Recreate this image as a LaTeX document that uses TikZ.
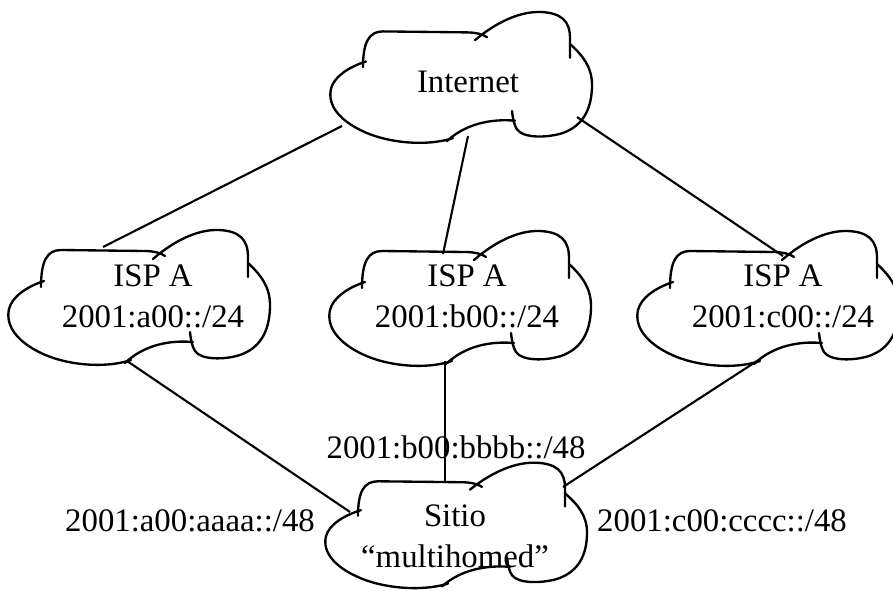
\documentclass[tikz,border=0pt]{standalone}
\usepackage{fontspec}
\setmainfont{Liberation Serif}
\usepackage{tikz}

\tikzset{
    cloudline/.style={line width=2pt, line cap=round, line join=round},
    link/.style={line width=1.8pt},
    label/.style={font=\fontsize{28}{35}\selectfont, align=center, inner sep=0pt},
    netcloud/.pic={
        % top left lobe
        \draw[cloudline] (-98,-10) .. controls (-98,-36) and (-92,-47) .. (-78,-47)
            -- (5,-46) .. controls (15,-46) and (22,-44) .. (26,-41);
        % top right lobe
        \draw[cloudline] (14,-38) .. controls (30,-52) and (55,-68) .. (80,-67)
            .. controls (100,-66) and (109,-58) .. (109,-40) -- (109,-20);
        % right lobe
        \draw[cloudline] (109,-34) .. controls (122,-22) and (131,-10) .. (131,8)
            .. controls (131,30) and (124,50) .. (101,58)
            .. controls (85,63) and (62,63) .. (56,54)
            .. controls (53,49) and (52,44) .. (51,35);
        % bottom lobe
        \draw[cloudline] (54,45) .. controls (30,43) and (5,48) .. (-14,66);
        % left lobe
        \draw[cloudline] (-8,63) .. controls (-35,72) and (-75,68) .. (-100,55)
            .. controls (-120,45) and (-134,30) .. (-130,12)
            .. controls (-127,0) and (-113,-10) .. (-95,-16);
    }
}

\begin{document}
\begin{tikzpicture}[x=0.03cm, y=-0.03cm]

    \useasboundingbox (0,0) rectangle (893,591);

    %\draw [help lines, step=50] (0,0) grid (893,591);

    \pic[yscale=0.97] at (461,77) {netcloud};
    \pic at (139,297) {netcloud};
    \pic at (460,298) {netcloud};
    \pic at (768,298) {netcloud};
    \pic[yscale=0.93] at (456,525) {netcloud};

    \path   (468,82)  node (inet)  [label] {Internet}
            (153,296) node (ispa)  [label] {ISP A\\2001:a00::/24}
            (467,296) node (ispb)  [label] {ISP A\\2001:b00::/24}
            (783,296) node (ispc)  [label] {ISP A\\2001:c00::/24}
            (455,536) node (sitio) [label] {Sitio\\“multihomed”}
            (190,521) node (pfxa)  [label] {2001:a00:aaaa::/48}
            (456,447) node (pfxb)  [label] {2001:b00:bbbb::/48}
            (722,521) node (pfxc)  [label] {2001:c00:cccc::/48};

    % attach points on the clouds
    \coordinate (inet-sw) at (342,126);
    \coordinate (inet-s)  at (468,136);
    \coordinate (inet-se) at (577,117);
    \coordinate (ispa-n)  at (103,247);
    \coordinate (ispb-n)  at (443,254);
    \coordinate (ispc-n)  at (783,256);
    \coordinate (ispa-s)  at (127,361);
    \coordinate (ispb-s)  at (445,361);
    \coordinate (ispc-s)  at (757,361);
    \coordinate (sitio-w) at (350,512);
    \coordinate (sitio-n) at (445,481);
    \coordinate (sitio-e) at (563,487);

    \draw[link] (inet-sw) -- (ispa-n);
    \draw[link] (inet-s)  -- (ispb-n);
    \draw[link] (inet-se) -- (ispc-n);
    \draw[link] (ispa-s)  -- (sitio-w);
    \draw[link] (ispb-s)  -- (sitio-n);
    \draw[link] (ispc-s)  -- (sitio-e);

\end{tikzpicture}
\end{document}
